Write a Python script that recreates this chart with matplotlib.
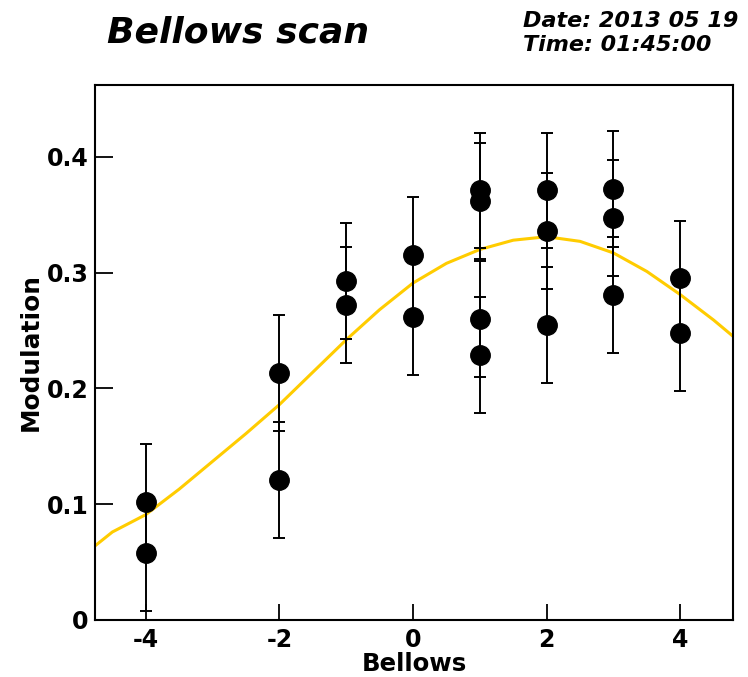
import matplotlib

matplotlib.use("Agg")
import matplotlib.pyplot as plt

# Measured points (bellows position, modulation, error)
bellows = [-4, -4, -2, -2, -1, -1, 0, 0, 1, 1, 1, 1, 2, 2, 2, 3, 3, 3, 4, 4]
modulation = [0.102, 0.058, 0.213, 0.121, 0.293, 0.272, 0.315, 0.262,
              0.371, 0.362, 0.260, 0.229, 0.371, 0.336, 0.255,
              0.372, 0.347, 0.281, 0.295, 0.248]
mod_err = [0.05] * len(bellows)

# Fit curve
fit_x = [-4.76, -4.5, -4.0, -3.5, -3.0, -2.5, -2.0, -1.5, -1.0, -0.5,
         0.0, 0.5, 1.0, 1.5, 2.0, 2.5, 3.0, 3.5, 4.0, 4.5, 4.79]
fit_y = [0.064, 0.076, 0.091, 0.113, 0.137, 0.161, 0.186, 0.214, 0.242, 0.268,
         0.291, 0.308, 0.320, 0.328, 0.331, 0.327, 0.317, 0.301, 0.281, 0.259, 0.245]

xticks = [-4, -2, 0, 2, 4]
yticks = [0, 0.1, 0.2, 0.3, 0.4]
ytick_labels = ["0", "0.1", "0.2", "0.3", "0.4"]

plt.rcParams["font.family"] = ["DejaVu Sans"]
plt.rcParams["font.weight"] = "bold"

fig = plt.figure(figsize=(7.48, 6.77), dpi=100)
ax = fig.add_axes([0.127, 0.0842, 0.853, 0.7902])

ax.plot(fit_x, fit_y, color="#FFCC00", lw=2.2, zorder=2)
ax.errorbar(bellows, modulation, yerr=mod_err, fmt="o", color="black",
            ms=14, elinewidth=1.4, capsize=4, capthick=1.4, zorder=3)

ax.set_xlim(-4.76, 4.79)
ax.set_ylim(0, 0.462)
ax.set_xticks(xticks)
ax.set_xticklabels([str(v) for v in xticks])
ax.set_yticks(yticks)
ax.set_yticklabels(ytick_labels)
ax.tick_params(axis="both", direction="in", labelsize=17, width=1.3)
ax.tick_params(axis="x", length=11.5, pad=6)
ax.tick_params(axis="y", length=13, pad=4.5)
for lab in ax.get_xticklabels() + ax.get_yticklabels():
    lab.set_fontweight("bold")
for sp in ax.spines.values():
    sp.set_linewidth(1.5)

ax.set_xlabel("Bellows", fontsize=17.6, fontweight="bold", labelpad=0)
ax.set_ylabel("Modulation", fontsize=17.8, fontweight="bold", labelpad=3)

fig.text(0.143, 0.9365, "Bellows scan", fontsize=26, fontweight="bold",
         fontstyle="italic", va="baseline", ha="left")
fig.text(0.699, 0.960, "Date: 2013 05 19", fontsize=16, fontweight="bold",
         fontstyle="italic", va="baseline", ha="left")
fig.text(0.699, 0.925, "Time: 01:45:00", fontsize=16, fontweight="bold",
         fontstyle="italic", va="baseline", ha="left")

fig.savefig("out.png", dpi=100)
